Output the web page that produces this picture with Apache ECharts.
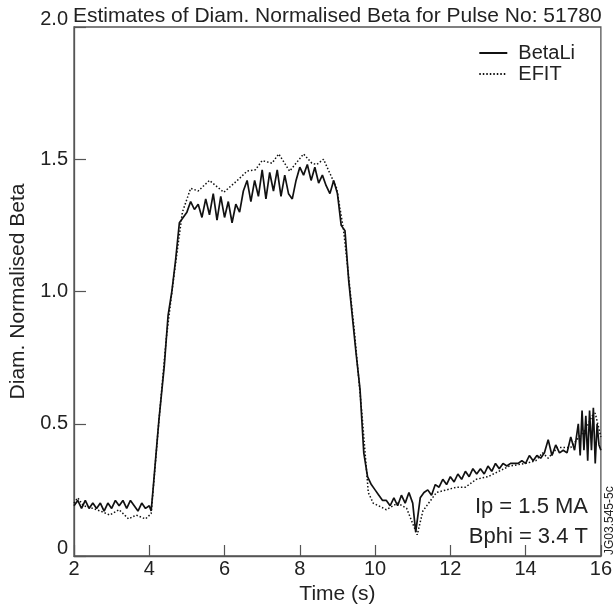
<!DOCTYPE html>
<html>
<head>
<meta charset="utf-8">
<script src="https://cdn.jsdelivr.net/npm/echarts@6/dist/echarts.min.js"></script>
<style>
  html, body { margin: 0; padding: 0; background: #fff; }
  #chart { width: 615px; height: 610px; }
</style>
</head>
<body>
<div id="chart"></div>
<script>
// BetaLi (solid) - time (s) and diam. normalised beta
const betaLiTime = [
  2.0, 2.1, 2.2, 2.3, 2.4, 2.5, 2.6, 2.7, 2.8, 2.9,
  3.0, 3.1, 3.2, 3.3, 3.4, 3.5, 3.6, 3.7, 3.8, 3.9,
  4.0, 4.05, 4.1, 4.2, 4.26, 4.4, 4.5, 4.6, 4.7, 4.8, 4.9,
  5.0, 5.1, 5.2, 5.3, 5.4, 5.5, 5.6, 5.7, 5.8, 5.9,
  6.0, 6.1, 6.2, 6.3, 6.4, 6.5, 6.6, 6.7, 6.8, 6.9,
  7.0, 7.1, 7.2, 7.3, 7.4, 7.5, 7.6, 7.7, 7.8, 7.9,
  8.0, 8.1, 8.2, 8.3, 8.4, 8.5, 8.6, 8.7, 8.8, 8.9,
  9.0, 9.1, 9.2, 9.3, 9.4, 9.5, 9.6, 9.7, 9.8, 9.9,
  10.0, 10.1, 10.2, 10.3, 10.4, 10.5, 10.6, 10.7, 10.8, 10.9,
  11.0, 11.08, 11.2, 11.3, 11.4, 11.5, 11.6, 11.7, 11.8, 11.9,
  12.0, 12.1, 12.2, 12.3, 12.4, 12.5, 12.6, 12.7, 12.8, 12.9,
  13.0, 13.1, 13.2, 13.3, 13.4, 13.5, 13.6, 13.7, 13.8, 13.9,
  14.0, 14.1, 14.2, 14.3, 14.4, 14.5, 14.6, 14.7, 14.8, 14.9,
  15.0, 15.1, 15.2, 15.3, 15.4, 15.45, 15.5, 15.55, 15.6, 15.65,
  15.7, 15.75, 15.8, 15.85, 15.9, 15.95, 16.0
];
const betaLiValue = [
  0.19, 0.21, 0.18, 0.21, 0.18, 0.20, 0.18, 0.20, 0.17, 0.20,
  0.18, 0.21, 0.19, 0.21, 0.18, 0.21, 0.19, 0.17, 0.20, 0.18,
  0.19, 0.17, 0.25, 0.42, 0.52, 0.72, 0.91, 1.00, 1.12, 1.26, 1.28,
  1.30, 1.34, 1.31, 1.33, 1.28, 1.35, 1.29, 1.37, 1.27, 1.36,
  1.28, 1.34, 1.26, 1.33, 1.30, 1.38, 1.42, 1.34, 1.42, 1.36,
  1.46, 1.35, 1.45, 1.38, 1.46, 1.36, 1.44, 1.37, 1.35, 1.42,
  1.47, 1.44, 1.48, 1.42, 1.47, 1.41, 1.44, 1.40, 1.37, 1.42,
  1.37, 1.25, 1.23, 1.04, 0.90, 0.76, 0.63, 0.39, 0.30, 0.27,
  0.25, 0.23, 0.21, 0.21, 0.19, 0.22, 0.19, 0.23, 0.20, 0.24,
  0.20, 0.09, 0.22, 0.24, 0.25, 0.23, 0.27, 0.26, 0.29, 0.27,
  0.30, 0.28, 0.31, 0.29, 0.32, 0.30, 0.33, 0.31, 0.33, 0.31,
  0.34, 0.32, 0.35, 0.33, 0.35, 0.34, 0.35, 0.35, 0.35, 0.36,
  0.35, 0.38, 0.36, 0.38, 0.37, 0.39, 0.44, 0.38, 0.42, 0.39,
  0.40, 0.39, 0.45, 0.40, 0.50, 0.38, 0.55, 0.40, 0.53, 0.36,
  0.55, 0.40, 0.56, 0.35, 0.50, 0.42, 0.40
];

// EFIT (dotted)
const efitTime = [
  2.0, 2.1, 2.25, 2.5, 2.7, 2.95, 3.2, 3.45, 3.65, 3.9,
  4.05, 4.25, 4.45, 4.62, 4.88, 5.1, 5.3, 5.6, 5.98, 6.34,
  6.6, 6.82, 7.0, 7.26, 7.44, 7.73, 8.1, 8.32, 8.45, 8.63,
  8.98, 9.16, 9.25, 9.45, 9.65, 9.82, 9.95, 10.3, 10.6, 10.84,
  11.12, 11.27, 11.63, 12.16, 12.4, 12.69, 13.0, 13.57, 14.0, 14.27,
  14.45, 14.6, 14.85, 15.2, 15.42, 15.6, 15.77, 15.85, 16.0
];
const efitValue = [
  0.20, 0.22, 0.19, 0.18, 0.17, 0.155, 0.175, 0.14, 0.155, 0.14,
  0.16, 0.50, 0.82, 1.02, 1.30, 1.39, 1.38, 1.42, 1.375, 1.42,
  1.455, 1.46, 1.495, 1.485, 1.52, 1.455, 1.52, 1.485, 1.48, 1.50,
  1.39, 1.235, 1.12, 0.85, 0.54, 0.24, 0.20, 0.175, 0.20, 0.18,
  0.08, 0.17, 0.24, 0.26, 0.26, 0.29, 0.30, 0.34, 0.35, 0.36,
  0.39, 0.37, 0.41, 0.41, 0.45, 0.48, 0.53, 0.54, 0.45
];

const xTicks = [2, 4, 6, 8, 10, 12, 14, 16];
const yTicks = [0, 0.5, 1.0, 1.5, 2.0];

const pair = (ts, vs) => ts.map((t, i) => [t, vs[i]]);

const chart = echarts.init(document.getElementById('chart'));
const font = 'Liberation Sans, Arial, sans-serif';
const ink = '#222';
const axisCol = '#555';

chart.setOption({
  animation: false,
  backgroundColor: '#fff',
  textStyle: { fontFamily: font },
  title: {
    text: 'Estimates of Diam. Normalised Beta for Pulse No: 51780',
    left: 68,
    top: 1,
    textStyle: { fontSize: 21, fontWeight: 'normal', color: ink, fontFamily: font }
  },
  grid: {
    left: 73, right: 12, top: 27, bottom: 54,
    show: true, borderColor: axisCol, borderWidth: 1.3
  },
  legend: {
    orient: 'vertical',
    right: 35,
    top: 38,
    itemWidth: 28,
    itemHeight: 14,
    itemGap: 1,
    itemStyle: { opacity: 0 },
    textStyle: { fontSize: 20, color: ink, padding: [0, 0, 0, 6] },
    data: ['BetaLi', 'EFIT']
  },
  xAxis: {
    type: 'value',
    min: xTicks[0], max: xTicks[xTicks.length - 1], interval: 2,
    name: 'Time (s)', nameLocation: 'middle', nameGap: 27,
    nameTextStyle: { fontSize: 21, color: ink },
    axisLine: { lineStyle: { color: axisCol, width: 1.3 } },
    axisTick: { inside: true, length: 11, lineStyle: { color: axisCol, width: 1.2 } },
    axisLabel: { fontSize: 20, color: ink, margin: 3 },
    splitLine: { show: false }
  },
  yAxis: {
    type: 'value',
    min: yTicks[0], max: yTicks[yTicks.length - 1], interval: 0.5,
    name: 'Diam. Normalised Beta', nameLocation: 'middle', nameGap: 45,
    nameTextStyle: { fontSize: 21, color: ink },
    axisLine: { lineStyle: { color: axisCol, width: 1.3 } },
    axisTick: { inside: true, length: 12, lineStyle: { color: axisCol, width: 1.2 } },
    axisLabel: {
      color: ink, margin: 6,
      formatter: v => (v === 0 ? '{end|0}' : v === 2 ? '{end|2.0}' : '{n|' + v.toFixed(1) + '}'),
      rich: {
        n: { fontSize: 20, color: ink },
        end: { fontSize: 20, color: ink, padding: [0, 0, 16, 0] }
      }
    },
    splitLine: { show: false }
  },
  series: [
    {
      name: 'BetaLi', type: 'line', symbol: 'none',
      data: pair(betaLiTime, betaLiValue),
      lineStyle: { color: '#111', width: 1.7, type: 'solid' },
      itemStyle: { color: '#111' }
    },
    {
      name: 'EFIT', type: 'line', symbol: 'none',
      data: pair(efitTime, efitValue),
      lineStyle: { color: '#111', width: 1.5, type: [1.5, 2] },
      itemStyle: { color: '#111' }
    }
  ],
  graphic: [
    {
      type: 'text', right: 27, top: 496,
      style: { text: 'Ip = 1.5 MA', fill: ink, font: '22px ' + font }
    },
    {
      type: 'text', right: 27, top: 526,
      style: { text: 'Bphi = 3.4 T', fill: ink, font: '22px ' + font }
    },
    {
      type: 'text', x: 604, y: 555, rotation: Math.PI / 2,
      style: { text: 'JG03.545-5c', fill: ink, font: '12px ' + font, textAlign: 'left', textVerticalAlign: 'top' }
    }
  ]
});
</script>
</body>
</html>
